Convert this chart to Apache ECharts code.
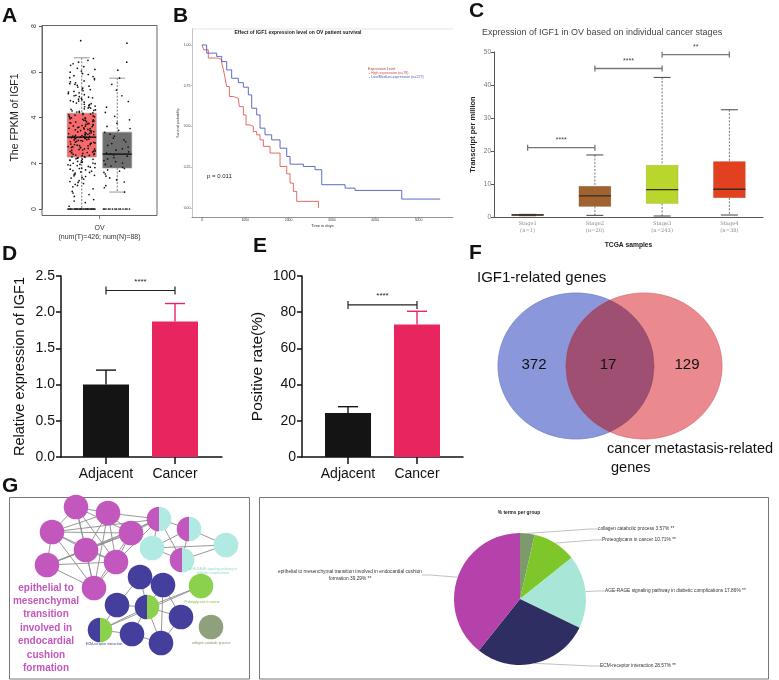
<!DOCTYPE html>
<html><head><meta charset="utf-8">
<script src="https://cdn.jsdelivr.net/npm/echarts@6/dist/echarts.min.js"></script>
<style>html,body{margin:0;padding:0;background:#fff}#c{width:779px;height:680px}</style>
</head><body><div id="c"></div>
<script>
// ================= DATA =================
// A: FPKM of IGF1 (tumor vs normal)
const fpkmGroups = ['Tumor', 'Normal'];
const fpkmBox = [[0, 2.27, 3.14, 4.19, 6.61], [0.74, 1.79, 2.40, 3.36, 5.72]]; // min,q1,median,q3,max
const fpkmTumorPts = [0,0,0,0,0,0,0,0,0,0,0,0,0,0,0,0,0,0,0,0,0,0,
  0.12,0.28,0.41,0.55,0.63,0.77,0.88,0.97,
  1.03,1.11,1.16,1.24,1.31,1.35,1.42,1.47,1.51,1.57,1.6,1.66,1.71,1.74,1.79,1.83,1.86,1.91,1.95,1.98,
  2.01,2.04,2.08,2.11,2.13,2.17,2.2,2.22,2.26,2.29,2.33,2.36,2.38,2.42,2.45,2.47,2.51,2.54,2.58,2.6,2.63,2.67,2.7,2.73,2.76,2.79,2.82,2.86,2.89,2.92,2.94,2.97,
  3.0,3.03,3.05,3.08,3.1,3.12,3.14,3.17,3.19,3.22,3.25,3.27,3.3,3.33,3.37,3.4,3.43,3.46,3.5,3.53,3.56,3.6,3.63,3.67,3.7,3.74,3.77,3.81,3.85,3.88,3.92,3.96,3.99,
  4.03,4.07,4.12,4.15,4.2,4.24,4.29,4.33,4.38,4.42,4.47,4.53,4.58,4.63,4.69,4.74,4.8,4.86,4.91,4.97,
  5.04,5.11,5.17,5.25,5.33,5.41,5.48,5.56,5.65,5.74,5.83,5.92,6.03,6.15,6.28,6.42,6.58,
  7.36,
  1.52,1.68,1.81,1.9,2.0,2.05,2.14,2.18,2.24,2.28,2.34,2.39,2.43,2.49,2.53,2.56,2.62,2.65,2.69,2.72,2.77,2.81,2.84,2.88,2.91,2.96,2.99,
  3.02,3.07,3.09,3.11,3.13,3.15,3.18,3.21,3.23,3.26,3.29,3.31,3.35,3.38,3.42,3.44,3.48,3.52,3.55,3.58,3.62,3.65,3.69,3.72,3.76,3.8,3.83,3.87,3.9,3.94,3.98,
  4.01,4.05,4.1,4.13,4.18,4.22,4.27,4.31,4.36,4.41,4.45,4.5,4.56,4.61,4.67,4.72,4.78,4.84,4.89,4.95,
  5.0,5.08,5.14,5.22,5.29,5.37,5.45,5.52,5.6,5.7,5.79,5.88,5.98,6.1,6.22,6.35,6.5,
  0.35,0.7,1.08,1.2,1.38,1.45,1.62,1.77,1.93,0,0,0,0,0,0];
const fpkmNormalPts = [0,0,0,0,0,0,0,0,0,0,0,0,0,0,
  0.74,0.93,1.02,1.18,1.27,1.36,1.44,1.53,1.6,1.66,1.71,1.77,1.82,1.88,1.95,2.01,2.07,2.12,2.19,2.25,2.31,2.36,2.4,2.44,2.5,2.57,2.63,2.71,2.78,2.86,2.94,3.02,3.1,3.19,3.27,3.35,3.44,3.52,3.61,3.75,3.9,4.05,4.22,4.45,4.7,4.95,5.2,5.45,5.72,6.07,6.42,7.25];

// B: Kaplan-Meier survival
const kmHigh = [[0,1],[40,0.97],[146,0.92],[377,0.91],[454,0.89],[493,0.85],[531,0.80],[570,0.745],[632,0.684],[724,0.673],[839,0.663],[862,0.622],[955,0.571],[1017,0.51],[1109,0.50],[1186,0.469],[1263,0.449],[1340,0.418],[1417,0.378],[1571,0.337],[1802,0.255],[1956,0.21],[2033,0.153],[2110,0.102],[2187,0.041],[2688,0]];
const kmLow = [[0,1],[108,0.95],[339,0.93],[454,0.898],[570,0.847],[685,0.796],[839,0.769],[955,0.741],[1070,0.694],[1147,0.612],[1263,0.571],[1340,0.49],[1455,0.449],[1609,0.418],[1802,0.367],[1956,0.316],[2033,0.269],[2341,0.255],[2611,0.235],[2765,0.143],[3304,0.122],[3535,0.108],[4613,0.055],[5500,0.055]];
const kmXTicks = [0, 1000, 2000, 3000, 4000, 5000];
const kmYTicks = [0, 0.25, 0.5, 0.75, 1];
const kmNames = ['High expression (n=78)', 'Low/Medium-expression (n=227)'];

// C: expression by stage
const stageCats = ['Stage1\n(n=1)', 'Stage2\n(n=20)', 'Stage3\n(n=243)', 'Stage4\n(n=38)'];
const stageBox = [[0.4, 0.5, 0.6, 0.8, 0.8], [0.5, 3.2, 6.4, 9.3, 18.8], [0.3, 4.1, 8.3, 15.7, 42.3], [0.6, 5.8, 8.4, 16.8, 32.5]];
const stageSig = [[0, 1, 21], [1, 2, 45], [2, 3, 49.2]];
const stageSigLabels = ['****', '****', '**'];

// D / E: bar charts
const groupCats = ['Adjacent', 'Cancer'];
const relExpr = [1.0, 1.87];
const relExprErr = [0.2, 0.25];
const relExprSig = [[0, 1, 2.3]];
const posRate = [24.3, 73.2];
const posRateErr = [3.5, 7.3];
const posRateSig = [[0, 1, 84]];
const sigText = '****';

// F: Venn
const vennSets = ['IGF1-related genes', 'cancer metastasis-related\n genes'];
const vennCounts = [372, 17, 129];

// G: enrichment network + pie
const netNodes = [[67,10,0,0],[99,16,0,0],[43,35,0,0],[77,53,0,0],[122,36,0,0],[38,68,0,0],[107,65,0,0],[85,91,0,0],
  [150,22,0,1],[180,32,0,1],[173,63,0,1],[143,51,1,1],[217,48,1,1],
  [131,80,2,2],[154,88,2,2],[108,108,2,2],[138,110,2,3],[172,120,2,2],[91,133,2,3],[123,137,2,2],[152,146,2,2],
  [192,89,3,3],[202,130,4,4]];
const netEdges = [[0,1],[0,2],[0,3],[0,4],[0,6],[0,7],[1,2],[1,3],[1,4],[1,6],[1,7],[2,3],[2,4],[2,5],[2,6],[2,7],[3,4],[3,5],[3,6],[3,7],[4,5],[4,6],[4,7],[5,6],[5,7],[6,7],
  [1,8],[4,8],[2,8],[3,8],[5,8],[6,8],[8,9],[8,11],[8,10],[9,10],[9,11],[9,12],[10,11],[10,12],[11,12],
  [13,14],[13,15],[13,16],[14,16],[14,17],[15,16],[15,18],[16,17],[16,18],[16,19],[16,20],[17,20],[18,19],[19,20],[14,20],[16,21],[18,21]];
const pieNames = ['collagen catabolic process', 'Proteoglycans in cancer', 'AGE-RAGE signaling pathway in diabetic complications', 'ECM-receptor interaction', 'epithelial to mesenchymal transition involved in endocardial cushion formation'];
const pieValues = [3.57, 10.71, 17.86, 28.57, 39.29];

// ================= STYLE / RENDER =================
const F = '"Liberation Sans", Arial, Helvetica, sans-serif';
const netColors = ['#c257bd', '#b1eae3', '#443e9d', '#8bd14d', '#8ea07c'];
const pieColors = ['#7d9a6c', '#7ec62a', '#a8e7d8', '#2f2e63', '#b541aa'];
const stageColors = ['#a0622e', '#a0622e', '#b8d62b', '#e1411f'];
const fpkmColors = ['#f7696b', '#6e6e6e'];
const barColors = ['#141414', '#e8255f'];

function txt(text, x, y, size, o) {
  o = o || {};
  const a = o.align || 'left', v = o.v || 'middle';
  const s = {text: text, font: (o.bold ? 'bold ' : '') + size + 'px ' + (o.family || F), fill: o.color || '#222',
    align: a, verticalAlign: v, textAlign: a, textVerticalAlign: v};
  if (o.lh) s.lineHeight = o.lh;
  return {type: 'text', x: x, y: y, rotation: o.rot || 0, silent: true, z: 10, style: s};
}
function gline(x1, y1, x2, y2, c, w) {
  return {type: 'line', silent: true, shape: {x1, y1, x2, y2}, style: {stroke: c, lineWidth: w}};
}

function boxRender(halfW, capW, colors, stroke, capColor, medColor) {
  return function (params, api) {
    const i = api.value(0);
    const mn = api.value(1), q1 = api.value(2), md = api.value(3), q3 = api.value(4), mx = api.value(5);
    const x = api.coord([i, md])[0];
    const Y = v => api.coord([i, v])[1];
    const dash = {stroke: '#555', lineWidth: 0.8, lineDash: [2, 1.5]};
    const cap = {stroke: capColor, lineWidth: 1};
    return {type: 'group', children: [
      {type: 'line', shape: {x1: x, y1: Y(mx), x2: x, y2: Y(q3)}, style: dash},
      {type: 'line', shape: {x1: x, y1: Y(q1), x2: x, y2: Y(mn)}, style: dash},
      {type: 'line', shape: {x1: x - capW, y1: Y(mx), x2: x + capW, y2: Y(mx)}, style: cap},
      {type: 'line', shape: {x1: x - capW, y1: Y(mn), x2: x + capW, y2: Y(mn)}, style: cap},
      {type: 'rect', shape: {x: x - halfW, y: Y(q3), width: 2 * halfW, height: Y(q1) - Y(q3)}, style: {fill: colors[i], stroke: stroke, lineWidth: 0.6}},
      {type: 'line', shape: {x1: x - halfW, y1: Y(md), x2: x + halfW, y2: Y(md)}, style: {stroke: medColor, lineWidth: 1.4}}
    ]};
  };
}
// deterministic horizontal spread of the dots inside the box (hash of the point index)
function spread(k) {
  const s = Math.sin(k * 12.9898 + 78.233) * 43758.5453;
  return s - Math.floor(s) - 0.5;
}
function jitterRender(halfW) {
  return function (params, api) {
    const c = api.coord([api.value(0), api.value(1)]);
    const k = api.value(2);
    const f = api.value(1) === 0 ? (((k * 0.6180339) % 1) - 0.5) : spread(k + api.value(0) * 1000);
    return {type: 'circle', shape: {cx: c[0] + f * 2 * halfW * 0.95, cy: c[1], r: 0.85}, style: {fill: '#111'}};
  };
}
function bracketRender(labels, color, lw, tick, font, fcolor, gap) {
  return function (params, api) {
    const a = api.coord([api.value(0), api.value(2)]);
    const b = api.coord([api.value(1), api.value(2)]);
    const st = {stroke: color, lineWidth: lw};
    return {type: 'group', children: [
      {type: 'line', shape: {x1: a[0], y1: a[1], x2: b[0], y2: b[1]}, style: st},
      {type: 'line', shape: {x1: a[0], y1: a[1] - tick, x2: a[0], y2: a[1] + tick}, style: st},
      {type: 'line', shape: {x1: b[0], y1: b[1] - tick, x2: b[0], y2: b[1] + tick}, style: st},
      {type: 'text', x: (a[0] + b[0]) / 2, y: a[1] - gap, style: {text: labels[params.dataIndex], font: font, fill: fcolor, align: 'center', verticalAlign: 'bottom', textAlign: 'center', textVerticalAlign: 'bottom'}}
    ]};
  };
}
function errRender(colors, capHalf) {
  return function (params, api) {
    const i = api.value(0);
    const a = api.coord([i, api.value(1)]);
    const b = api.coord([i, api.value(1) + api.value(2)]);
    const st = {stroke: colors[i], lineWidth: 1.4};
    return {type: 'group', children: [
      {type: 'line', shape: {x1: a[0], y1: a[1], x2: b[0], y2: b[1]}, style: st},
      {type: 'line', shape: {x1: b[0] - capHalf, y1: b[1], x2: b[0] + capHalf, y2: b[1]}, style: st}
    ]};
  };
}
function ellipsePts(api, cx, cy, rx, ry) {
  const pts = [];
  for (let k = 0; k < 120; k++) {
    const t = k / 120 * Math.PI * 2;
    pts.push(api.coord([cx + rx * Math.cos(t), cy + ry * Math.sin(t)]));
  }
  return pts;
}
function vennRender(params, api) {
  const rx = 78, ry = 73, cy = 86, c1 = 106, c2 = 174;
  const half = (x, cx) => { const d = (x - cx) / rx; return d * d >= 1 ? 0 : ry * Math.sqrt(1 - d * d); };
  const top = [], bot = [];
  for (let k = 0; k <= 80; k++) {
    const x = (c2 - rx) + (c1 + rx - (c2 - rx)) * k / 80;
    const h = Math.min(half(x, c1), half(x, c2));
    top.push(api.coord([x, cy - h]));
    bot.unshift(api.coord([x, cy + h]));
  }
  const T = (s, x, y, al, lh) => ({type: 'text', position: api.coord([x, y]), style: {text: s, font: (lh ? '14.5px ' : '15px ') + F, fill: '#111', align: al, verticalAlign: 'middle', textAlign: al, textVerticalAlign: 'middle', lineHeight: lh || 18}});
  return {type: 'group', children: [
    {type: 'polygon', shape: {points: ellipsePts(api, c1, cy, rx, ry)}, style: {fill: '#8a97da', stroke: '#7282cc', lineWidth: 0.8}},
    {type: 'polygon', shape: {points: ellipsePts(api, c2, cy, rx, ry)}, style: {fill: '#ea898e', stroke: '#d9747a', lineWidth: 0.8}},
    {type: 'polygon', shape: {points: top.concat(bot)}, style: {fill: '#9e4f72', stroke: '#8a4466', lineWidth: 0.6}},
    T(String(vennCounts[0]), 64, 85, 'center'),
    T(String(vennCounts[1]), 138, 85, 'center'),
    T(String(vennCounts[2]), 217, 85, 'center'),
    T(vennSets[0], 7, -2, 'left'),
    T(vennSets[1], 137, 178, 'left', 19)
  ]};
}
function edgeRender(params, api) {
  const a = netNodes[api.value(0)], b = netNodes[api.value(1)];
  const p = api.coord([a[0], a[1]]), q = api.coord([b[0], b[1]]);
  return {type: 'line', shape: {x1: p[0], y1: p[1], x2: q[0], y2: q[1]}, style: {stroke: '#8c8c8c', lineWidth: 0.9}};
}
function nodeRender(params, api) {
  const c = api.coord([api.value(0), api.value(1)]);
  const g1 = api.value(2), g2 = api.value(3), r = 12.3;
  if (g1 === g2) return {type: 'circle', shape: {cx: c[0], cy: c[1], r: r}, style: {fill: netColors[g1]}};
  return {type: 'group', children: [
    {type: 'sector', shape: {cx: c[0], cy: c[1], r: r, r0: 0, startAngle: Math.PI / 2, endAngle: Math.PI * 1.5, clockwise: true}, style: {fill: netColors[g1]}},
    {type: 'sector', shape: {cx: c[0], cy: c[1], r: r, r0: 0, startAngle: -Math.PI / 2, endAngle: Math.PI / 2, clockwise: true}, style: {fill: netColors[g2]}}
  ]};
}

const noAxis = (gi, min, max, inv) => ({gridIndex: gi, type: 'value', min: min, max: max, inverse: !!inv, show: false});
const G = o => Object.assign({outerBoundsMode: 'none', containLabel: false}, o);

const chart = echarts.init(document.getElementById('c'));
const option = {
  animation: false,
  backgroundColor: '#fff',
  textStyle: {fontFamily: F},
  grid: [
    G({left: 64, top: 26, width: 71, height: 183}),
    G({left: 192, top: 29, width: 261, height: 188}),
    G({left: 494, top: 52, width: 269, height: 165}),
    G({left: 61, top: 276, width: 161, height: 181}),
    G({left: 302, top: 276, width: 161, height: 181}),
    G({left: 470, top: 280, width: 300, height: 180}),
    G({left: 9, top: 497, width: 241, height: 182})
  ],
  xAxis: [
    {gridIndex: 0, type: 'category', data: fpkmGroups, show: false},
    {gridIndex: 1, type: 'value', min: -231, max: 5796, splitLine: {show: false},
      axisLine: {onZero: false, lineStyle: {color: '#666', width: 0.7}},
      axisTick: {customValues: kmXTicks, length: 1.5, lineStyle: {color: '#666', width: 0.5}},
      axisLabel: {customValues: kmXTicks, formatter: v => String(v), fontSize: 3.5, margin: 1.5, color: '#444'},
      name: 'Time in days', nameLocation: 'middle', nameGap: 5, nameTextStyle: {fontSize: 4, color: '#333'}},
    {gridIndex: 2, type: 'category', data: stageCats,
      axisLine: {lineStyle: {color: '#555', width: 1}}, axisTick: {show: false},
      axisLabel: {fontSize: 5.2, color: '#888', lineHeight: 7, margin: 3, fontFamily: 'DejaVu Serif'},
      name: 'TCGA samples', nameLocation: 'middle', nameGap: 25, nameTextStyle: {fontSize: 6.7, fontWeight: 'bold', color: '#222'}},
    {gridIndex: 3, type: 'value', min: -0.652, max: 1.681, splitLine: {show: false},
      axisLine: {onZero: false, lineStyle: {color: '#111', width: 1.5}},
      axisTick: {customValues: [0, 1], length: 7, lineStyle: {color: '#111', width: 1.5}},
      axisLabel: {customValues: [0, 1], formatter: v => groupCats[Math.round(v)], fontSize: 14, color: '#111', margin: 10}},
    {gridIndex: 4, type: 'value', min: -0.667, max: 1.667, splitLine: {show: false},
      axisLine: {onZero: false, lineStyle: {color: '#111', width: 1.5}},
      axisTick: {customValues: [0, 1], length: 7, lineStyle: {color: '#111', width: 1.5}},
      axisLabel: {customValues: [0, 1], formatter: v => groupCats[Math.round(v)], fontSize: 14, color: '#111', margin: 10}},
    noAxis(5, 0, 300),
    noAxis(6, 0, 241)
  ],
  yAxis: [
    {gridIndex: 0, type: 'value', min: 0, max: 8, interval: 2, offset: 22, splitLine: {show: false},
      axisLine: {show: true, onZero: false, lineStyle: {color: '#555', width: 0.8}},
      axisTick: {show: true, length: 3, lineStyle: {color: '#555'}},
      axisLabel: {rotate: 90, fontSize: 7, color: '#333', margin: 4},
      name: 'The FPKM of IGF1', nameLocation: 'middle', nameRotate: 90, nameGap: 21, nameTextStyle: {fontSize: 10.5, color: '#222'}},
    {gridIndex: 1, type: 'value', min: -0.055, max: 1.098, splitLine: {show: false},
      axisLine: {show: true, onZero: false, lineStyle: {color: '#aaa', width: 0.7}},
      axisTick: {show: true, customValues: kmYTicks, length: 1.5, lineStyle: {color: '#888', width: 0.5}},
      axisLabel: {customValues: kmYTicks, formatter: v => v.toFixed(2), fontSize: 3.5, margin: 1.5, color: '#444'},
      name: 'Survival probability', nameLocation: 'middle', nameRotate: 90, nameGap: 11, nameTextStyle: {fontSize: 3.5, color: '#333'}},
    {gridIndex: 2, type: 'value', min: 0, max: 50, interval: 10, splitLine: {show: false},
      axisLine: {show: true, onZero: false, lineStyle: {color: '#555', width: 1}},
      axisTick: {show: true, length: 3, lineStyle: {color: '#555'}},
      axisLabel: {fontSize: 6.5, color: '#777', margin: 3},
      name: 'Transcript per million', nameLocation: 'middle', nameRotate: 90, nameGap: 17, nameTextStyle: {fontSize: 7.5, fontWeight: 'bold', color: '#222'}},
    {gridIndex: 3, type: 'value', min: 0, max: 2.5, interval: 0.5, splitLine: {show: false},
      axisLine: {show: true, onZero: false, lineStyle: {color: '#111', width: 1.5}},
      axisTick: {show: true, length: 5, lineStyle: {color: '#111', width: 1.5}},
      axisLabel: {formatter: v => v.toFixed(1), fontSize: 14, color: '#111', margin: 6},
      name: 'Relative expression of IGF1', nameLocation: 'middle', nameRotate: 90, nameGap: 34, nameTextStyle: {fontSize: 14.5, color: '#111'}},
    {gridIndex: 4, type: 'value', min: 0, max: 100, interval: 20, splitLine: {show: false},
      axisLine: {show: true, onZero: false, lineStyle: {color: '#111', width: 1.5}},
      axisTick: {show: true, length: 5, lineStyle: {color: '#111', width: 1.5}},
      axisLabel: {fontSize: 14, color: '#111', margin: 6},
      name: 'Positive rate(%)', nameLocation: 'middle', nameRotate: 90, nameGap: 36, nameTextStyle: {fontSize: 15.5, color: '#111'}},
    noAxis(5, 0, 180, true),
    noAxis(6, 0, 182, true)
  ],
  series: [
    // A
    {type: 'custom', xAxisIndex: 0, yAxisIndex: 0, silent: true,
      renderItem: boxRender(14.5, 8, fpkmColors, '#999', '#999', '#111'),
      data: fpkmBox.map((b, i) => [i].concat(b))},
    {type: 'custom', xAxisIndex: 0, yAxisIndex: 0, silent: true, z: 3,
      renderItem: jitterRender(14.5),
      data: fpkmTumorPts.map((v, k) => [0, v, k]).concat(fpkmNormalPts.map((v, k) => [1, v, k]))},
    // B
    {type: 'line', name: kmNames[0], xAxisIndex: 1, yAxisIndex: 1, step: 'end', showSymbol: false, silent: true,
      data: kmHigh, lineStyle: {color: '#e05b57', width: 0.9}},
    {type: 'line', name: kmNames[1], xAxisIndex: 1, yAxisIndex: 1, step: 'end', showSymbol: false, silent: true,
      data: kmLow, lineStyle: {color: '#4a5ec2', width: 0.9}},
    // C
    {type: 'custom', xAxisIndex: 2, yAxisIndex: 2, silent: true,
      renderItem: boxRender(16, 8.5, stageColors, 'rgba(0,0,0,0.15)', '#444', '#3a2a1a'),
      data: stageBox.map((b, i) => [i].concat(b))},
    {type: 'custom', xAxisIndex: 2, yAxisIndex: 2, silent: true,
      renderItem: bracketRender(stageSigLabels, '#777', 1.3, 3, '7px ' + F, '#444', 4),
      data: stageSig},
    // D
    {type: 'bar', xAxisIndex: 3, yAxisIndex: 3, barWidth: 46, silent: true,
      data: relExpr.map((v, i) => ({value: [i, v], itemStyle: {color: barColors[i]}}))},
    {type: 'custom', xAxisIndex: 3, yAxisIndex: 3, silent: true, z: 1,
      renderItem: errRender(barColors, 10), data: relExpr.map((v, i) => [i, v, relExprErr[i]])},
    {type: 'custom', xAxisIndex: 3, yAxisIndex: 3, silent: true,
      renderItem: bracketRender([sigText], '#222', 1.2, 4, '8px ' + F, '#222', 5), data: relExprSig},
    // E
    {type: 'bar', xAxisIndex: 4, yAxisIndex: 4, barWidth: 46, silent: true,
      data: posRate.map((v, i) => ({value: [i, v], itemStyle: {color: barColors[i]}}))},
    {type: 'custom', xAxisIndex: 4, yAxisIndex: 4, silent: true, z: 1,
      renderItem: errRender(barColors, 10), data: posRate.map((v, i) => [i, v, posRateErr[i]])},
    {type: 'custom', xAxisIndex: 4, yAxisIndex: 4, silent: true,
      renderItem: bracketRender([sigText], '#222', 1.2, 4, '8px ' + F, '#222', 5), data: posRateSig},
    // F
    {type: 'custom', xAxisIndex: 5, yAxisIndex: 5, silent: true, renderItem: vennRender, data: [[0, 0]]},
    // G network
    {type: 'custom', xAxisIndex: 6, yAxisIndex: 6, silent: true, renderItem: edgeRender, data: netEdges},
    {type: 'custom', xAxisIndex: 6, yAxisIndex: 6, silent: true, z: 3, renderItem: nodeRender, data: netNodes},
    // G pie
    {type: 'pie', center: [520, 599], radius: 66, startAngle: 90, clockwise: true, avoidLabelOverlap: false, silent: true,
      data: pieNames.map((n, i) => ({name: n, value: pieValues[i], itemStyle: {color: pieColors[i]}})),
      label: {show: true, position: 'outside', fontSize: 4.8, color: '#333', fontFamily: F, lineHeight: 7, align: 'center',
        formatter: p => (p.name.length > 60 ? p.name.replace(' formation', '\nformation') : p.name) + ' ' + p.value.toFixed(2) + '% **'},
      labelLine: {show: true, length: 8, length2: 8, lineStyle: {color: '#999', width: 0.6}},
      labelLayout: function (p) {
        const pos = [[598, 529, 'left'], [602, 540, 'left'], [605, 591, 'left'], [600, 666, 'left'], [350, 575, 'center']][p.dataIndex];
        return {x: pos[0], y: pos[1], align: pos[2], verticalAlign: 'middle'};
      }}
  ],
  graphic: [
    txt('A', 2, 6, 21, {bold: true, v: 'top', color: '#111'}),
    txt('B', 173, 6, 21, {bold: true, v: 'top', color: '#111'}),
    txt('C', 469, 1, 21, {bold: true, v: 'top', color: '#111'}),
    txt('D', 2, 244, 21, {bold: true, v: 'top', color: '#111'}),
    txt('E', 253, 236, 21, {bold: true, v: 'top', color: '#111'}),
    txt('F', 469, 243, 21, {bold: true, v: 'top', color: '#111'}),
    txt('G', 2, 476, 21, {bold: true, v: 'top', color: '#111'}),
    {type: 'rect', silent: true, shape: {x: 42, y: 25.5, width: 115, height: 190}, style: {fill: 'none', stroke: '#666', lineWidth: 1}},
    gline(99.5, 215.5, 99.5, 219, '#666', 0.8),
    txt('OV', 99.5, 228, 7, {align: 'center', color: '#333'}),
    txt('(num(T)=426; num(N)=88)', 99.5, 237, 7, {align: 'center', color: '#333'}),
    gline(192, 29, 453, 29, '#d8d8d8', 0.7),
    txt('Effect of IGF1 expression level on OV patient survival', 298, 33, 5, {bold: true, align: 'center', color: '#222'}),
    txt('p = 0.011', 207, 176, 6, {color: '#222'}),
    txt('Expression Level', 368, 69.3, 3.6, {color: '#a04848'}),
    txt('- ' + kmNames[0], 369, 72.9, 3.6, {color: '#d84848'}),
    txt('- ' + kmNames[1], 369, 77.1, 3.6, {color: '#4a5ec2'}),
    txt('Expression of IGF1 in OV based on individual cancer stages', 482, 33, 9, {color: '#444'}),
    {type: 'rect', silent: true, shape: {x: 9.5, y: 497.5, width: 240, height: 181.5}, style: {fill: 'none', stroke: '#777', lineWidth: 1}},
    {type: 'rect', silent: true, shape: {x: 259.5, y: 497.5, width: 509, height: 181.5}, style: {fill: 'none', stroke: '#777', lineWidth: 1}},
    txt('epithelial to\nmesenchymal\ntransition\ninvolved in\nendocardial\ncushion\nformation', 46, 628, 10, {bold: true, align: 'center', color: '#c257bd', lh: 13.4}),
    txt('AGE-RAGE signaling pathway in\ndiabetic complications', 213, 571, 3.3, {align: 'center', color: '#8fd8cc', lh: 4}),
    txt('Proteoglycans in cancer', 202, 602, 3.3, {align: 'center', color: '#7cc43c'}),
    txt('ECM-receptor interaction', 104, 644, 3.3, {align: 'center', color: '#443e9d'}),
    txt('collagen catabolic process', 211, 643, 3.3, {align: 'center', color: '#7f9270'}),
    txt('% terms per group', 519, 513, 4.8, {bold: true, align: 'center', color: '#222'})
  ]
};
chart.setOption(option);
</script>
</body></html>
